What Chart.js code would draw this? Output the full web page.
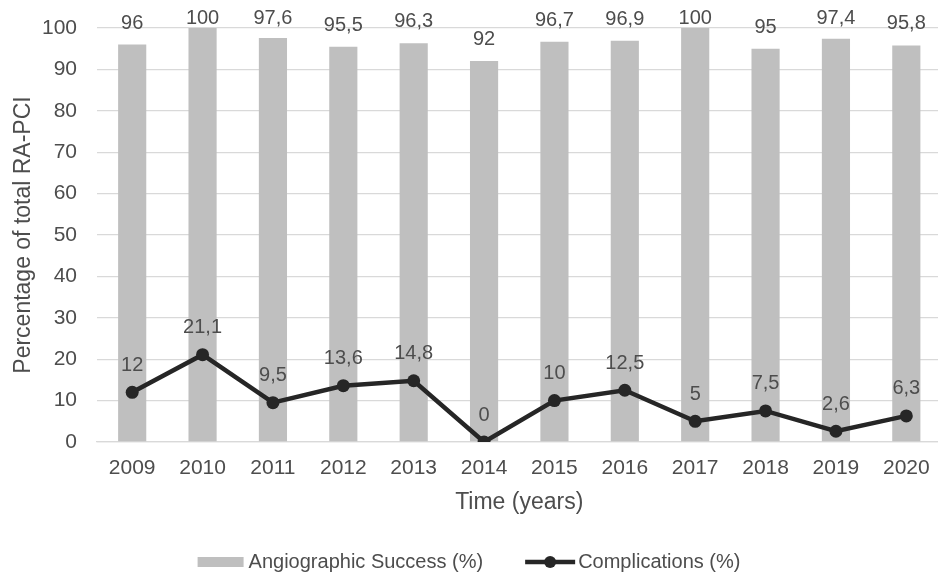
<!DOCTYPE html>
<html>
<head>
<meta charset="utf-8">
<script src="https://cdn.jsdelivr.net/npm/chart.js@4"></script>
<style>
  body { margin: 0; background: #fff; overflow: hidden; }
  #wrap { width: 948px; height: 575px; }
</style>
</head>
<body>
<div id="wrap"><canvas id="raChart"></canvas></div>
<script>
const years = ['2009', '2010', '2011', '2012', '2013', '2014', '2015', '2016', '2017', '2018', '2019', '2020'];
const angioSuccess = [96, 100, 97.6, 95.5, 96.3, 92, 96.7, 96.9, 100, 95, 97.4, 95.8];
const complications = [12, 21.1, 9.5, 13.6, 14.8, 0, 10, 12.5, 5, 7.5, 2.6, 6.3];
const yTicks = [0, 10, 20, 30, 40, 50, 60, 70, 80, 90, 100];

const textColor = '#4d4d4d';
const fontFamily = '"Liberation Sans", Arial, sans-serif';
const barColor = '#bfbfbf';
const lineColor = '#262626';

const fmt = v => String(v).replace('.', ',');

// value labels + bottom legend, drawn by hand
const labelsAndLegend = {
    id: 'labelsAndLegend',
    afterDatasetsDraw(chart) {
        const ctx = chart.ctx;
        ctx.save();
        ctx.font = '20px ' + fontFamily;
        ctx.fillStyle = textColor;
        ctx.textAlign = 'center';
        ctx.textBaseline = 'middle';
        chart.getDatasetMeta(0).data.forEach((bar, i) => {
            ctx.fillText(fmt(angioSuccess[i]), bar.x, Math.max(bar.y - 21.5, 18));
        });
        chart.getDatasetMeta(1).data.forEach((pt, i) => {
            ctx.fillText(fmt(complications[i]), pt.x, pt.y - 27);
        });
        ctx.restore();
    },
    afterDraw(chart) {
        const ctx = chart.ctx;
        ctx.save();
        ctx.font = '20px ' + fontFamily;
        ctx.fillStyle = textColor;
        ctx.textBaseline = 'middle';
        const y = 562;
        const t1 = chart.data.datasets[0].label;
        const t2 = chart.data.datasets[1].label;
        const w1 = 46 + 5 + ctx.measureText(t1).width;
        const w2 = 50 + 3 + ctx.measureText(t2).width;
        const gap = 42;
        let x = 469 - (w1 + gap + w2) / 2;
        ctx.fillStyle = barColor;
        ctx.fillRect(x, y - 5, 46, 10);
        ctx.fillStyle = textColor;
        ctx.fillText(t1, x + 51, y);
        x += w1 + gap;
        ctx.strokeStyle = lineColor;
        ctx.lineWidth = 4.5;
        ctx.beginPath();
        ctx.moveTo(x, y);
        ctx.lineTo(x + 50, y);
        ctx.stroke();
        ctx.fillStyle = lineColor;
        ctx.beginPath();
        ctx.arc(x + 25, y, 6, 0, Math.PI * 2);
        ctx.fill();
        ctx.fillStyle = textColor;
        ctx.fillText(t2, x + 53, y);
        ctx.restore();
    }
};

const ctxRa = document.getElementById('raChart').getContext('2d');
new Chart(ctxRa, {
    type: 'bar',
    data: {
        labels: years,
        datasets: [{
            type: 'bar',
            label: 'Angiographic Success (%)',
            data: angioSuccess,
            backgroundColor: barColor,
            barPercentage: 0.4,
            categoryPercentage: 1,
            order: 2
        }, {
            type: 'line',
            label: 'Complications (%)',
            data: complications,
            borderColor: lineColor,
            backgroundColor: lineColor,
            borderWidth: 4.5,
            pointRadius: 6.5,
            pointBackgroundColor: lineColor,
            pointBorderWidth: 0,
            tension: 0,
            order: 1
        }]
    },
    options: {
        responsive: true,
        maintainAspectRatio: false,
        animation: false,
        layout: {
            padding: { top: 28, left: 0, right: 0, bottom: 55 }
        },
        plugins: {
            legend: { display: false },
            tooltip: { enabled: false }
        },
        scales: {
            x: {
                grid: { display: false, drawTicks: false },
                border: { display: true, color: '#d9d9d9', width: 1.3 },
                ticks: {
                    color: textColor,
                    font: { family: fontFamily, size: 21 },
                    padding: 14
                },
                title: {
                    display: true,
                    text: 'Time (years)',
                    color: textColor,
                    font: { family: fontFamily, size: 23 },
                    padding: { top: 0, bottom: 4 }
                },
                afterFit: s => { s.height = 78; s.paddingLeft = 0; s.paddingRight = 0; }
            },
            y: {
                min: 0,
                max: 100,
                afterBuildTicks: s => { s.ticks = yTicks.map(v => ({ value: v })); },
                grid: { color: '#d9d9d9', lineWidth: 1.3, drawTicks: false },
                border: { display: false },
                ticks: {
                    color: textColor,
                    font: { family: fontFamily, size: 21 },
                    padding: 20
                },
                title: {
                    display: true,
                    text: 'Percentage of total RA-PCI',
                    color: textColor,
                    font: { family: fontFamily, size: 23 },
                    padding: { top: 10, bottom: 0 }
                },
                afterFit: s => { s.width = 97; s.paddingTop = 0; s.paddingBottom = 0; }
            }
        }
    },
    plugins: [labelsAndLegend]
});
</script>
</body>
</html>
